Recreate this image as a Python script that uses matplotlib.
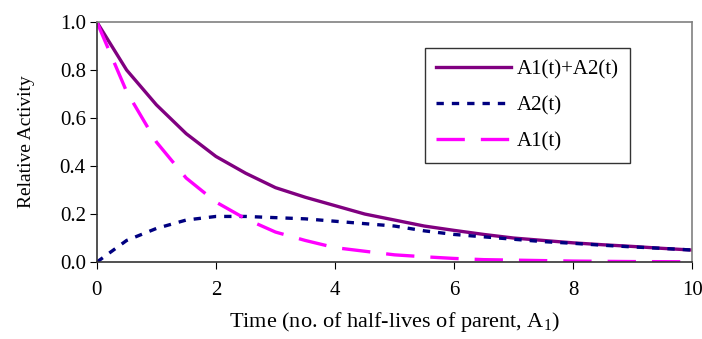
import matplotlib
matplotlib.use("Agg")
import matplotlib.pyplot as plt

plt.rcParams['font.family'] = ['Liberation Serif', 'DejaVu Serif']
plt.rcParams['mathtext.fontset'] = 'custom'
plt.rcParams['mathtext.rm'] = 'Liberation Serif'

# time in half-lives of parent
t = [0, 0.5, 1, 1.5, 2, 2.5, 3, 3.5, 4, 4.5, 5, 5.5, 6, 6.5, 7, 7.5, 8, 8.5, 9, 9.5, 10]
total = [1.0, 0.80, 0.655, 0.535, 0.44, 0.37, 0.31, 0.27, 0.235, 0.20, 0.175,
         0.15, 0.132, 0.115, 0.10, 0.09, 0.08, 0.072, 0.065, 0.057, 0.05]
a2 = [0.0, 0.09, 0.14, 0.175, 0.19, 0.19, 0.185, 0.18, 0.17, 0.16, 0.15,
      0.13, 0.115, 0.105, 0.095, 0.085, 0.078, 0.07, 0.063, 0.057, 0.05]
a1 = [1.0, 0.71, 0.50, 0.35, 0.25, 0.18, 0.125, 0.09, 0.06, 0.045, 0.03,
      0.022, 0.015, 0.01, 0.008, 0.006, 0.004, 0.003, 0.002, 0.0015, 0.001]

fig = plt.figure(figsize=(7.02, 3.39), dpi=100)
ax = fig.add_axes([0.138, 0.227, 0.848, 0.708])

ax.plot(t, total, color='#800080', lw=2.4, label='A1(t)+A2(t)')
ax.plot(t, a2, color='#000080', lw=2.4, dashes=(2.2, 2.4), label='A2(t)')
ax.plot(t, a1, color='#FF00FF', lw=2.4, dashes=(8.5, 4.8), label='A1(t)')

ax.set_xlim(0, 10)
ax.set_ylim(0, 1.0)
ax.set_xticks([0, 2, 4, 6, 8, 10])
ax.set_yticks([0, 0.2, 0.4, 0.6, 0.8, 1.0])
ax.set_yticklabels([f'{v:.1f}' for v in [0, 0.2, 0.4, 0.6, 0.8, 1.0]])
ax.tick_params(direction='out', length=5, labelsize=15, pad=3)
ax.tick_params(axis='x', pad=9)

for s in ['top', 'right']:
    ax.spines[s].set_color('#808080')
for s in ['left', 'bottom']:
    ax.spines[s].set_color('#333333')
for s in ax.spines.values():
    s.set_linewidth(1.2)

ax.set_xlabel('Time (no. of half-lives of parent, A$_1$)', fontsize=16, labelpad=7)
ax.set_ylabel('Relative Activity', fontsize=14, labelpad=18)

leg = ax.legend(loc='upper left', bbox_to_anchor=(0.551, 0.892), borderaxespad=0,
                fontsize=15, frameon=True, fancybox=False, edgecolor='black',
                handlelength=3.6, labelspacing=0.8, borderpad=0.55, handletextpad=0.25)
leg.get_frame().set_linewidth(1.0)

fig.savefig('out.png', dpi=100)
